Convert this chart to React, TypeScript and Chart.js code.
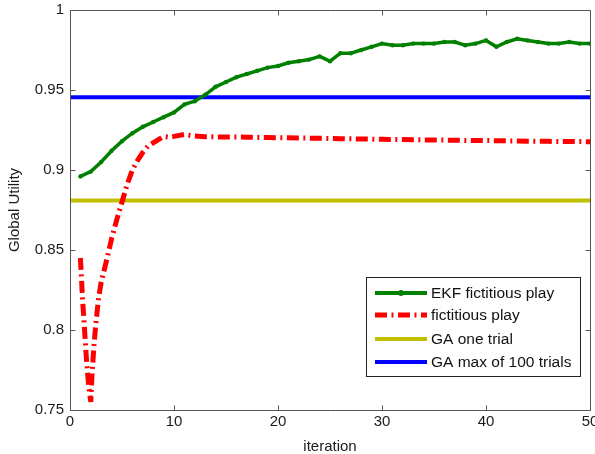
import React, { useEffect, useRef } from 'react';
import { Chart, registerables } from 'chart.js';

Chart.register(...registerables);

const iterations = [
  1, 2, 3, 4, 5, 6, 7, 8, 9, 10, 11, 12, 13, 14, 15, 16, 17, 18, 19, 20, 21, 22, 23, 24, 25,
  26, 27, 28, 29, 30, 31, 32, 33, 34, 35, 36, 37, 38, 39, 40, 41, 42, 43, 44, 45, 46, 47, 48, 49, 50,
];
const ekfUtility = [
  0.896, 0.899, 0.905, 0.912, 0.918, 0.923, 0.927, 0.930, 0.933, 0.936, 0.941, 0.943, 0.947,
  0.952, 0.955, 0.958, 0.960, 0.962, 0.964, 0.965, 0.967, 0.968, 0.969, 0.971, 0.968, 0.973,
  0.973, 0.975, 0.977, 0.979, 0.978, 0.978, 0.979, 0.979, 0.979, 0.980, 0.980, 0.978, 0.979,
  0.981, 0.977, 0.980, 0.982, 0.981, 0.980, 0.979, 0.979, 0.980, 0.979, 0.979,
];
const fpIterations = [
  1, 1.2, 1.4, 1.6, 1.8, 2.0, 2.1, 2.3, 2.5, 2.75, 3, 3.5, 4, 4.5, 5, 5.5, 6, 6.5, 7, 7.5, 8,
  8.5, 9, 9.5, 10, 11, 12, 13, 14, 15, 16, 17, 18, 19, 20, 22, 24, 26, 28, 30, 32, 34, 36, 38,
  40, 42, 44, 46, 48, 50,
];
const fpUtility = [
  0.845, 0.82, 0.8, 0.78, 0.765, 0.755, 0.77, 0.79, 0.805, 0.82, 0.83, 0.843, 0.857, 0.869,
  0.88, 0.891, 0.9, 0.906, 0.911, 0.915, 0.917, 0.919, 0.921, 0.9205, 0.921, 0.9222, 0.9212,
  0.9208, 0.9207, 0.9206, 0.9206, 0.9205, 0.9204, 0.9203, 0.9202, 0.92, 0.9198, 0.9196, 0.9194,
  0.9192, 0.919, 0.9188, 0.9187, 0.9185, 0.9184, 0.9182, 0.918, 0.9179, 0.9178, 0.9177,
];
const gaRange = [0, 50];
const gaOneTrial = [0.881, 0.881];
const gaMax100 = [0.9455, 0.9455];
const xTicks = [0, 10, 20, 30, 40, 50];
const yTicks = [0.75, 0.8, 0.85, 0.9, 0.95, 1];
const seriesNames = ['EKF fictitious play', 'fictitious play', 'GA one trial', 'GA max of 100 trials'];
const seriesColors = ['#008000', '#ff0000', '#bfbf00', '#0000ff'];
const redDash = [12, 4.5, 2, 4.5];

const FONT = '"Liberation Sans", Arial, sans-serif';

const framePlugin = {
  id: 'matlabFrame',
  afterDatasetsDraw(chart: any) {
    const { ctx, chartArea: a, scales } = chart;
    const x = scales.x;
    const y = scales.y;
    ctx.save();
    ctx.strokeStyle = '#555555';
    ctx.lineWidth = 1;
    const L = Math.round(a.left) + 0.5;
    const R = Math.round(a.right) + 0.5;
    const T = Math.round(a.top) + 0.5;
    const B = Math.round(a.bottom) + 0.5;
    ctx.beginPath();
    ctx.rect(L, T, R - L, B - T);
    ctx.stroke();
    const tl = 5;
    ctx.beginPath();
    xTicks.forEach((v) => {
      const px = Math.round(x.getPixelForValue(v)) + 0.5;
      ctx.moveTo(px, B);
      ctx.lineTo(px, B - tl);
      ctx.moveTo(px, T);
      ctx.lineTo(px, T + tl);
    });
    yTicks.forEach((v) => {
      const py = Math.round(y.getPixelForValue(v)) + 0.5;
      ctx.moveTo(L, py);
      ctx.lineTo(L + tl, py);
      ctx.moveTo(R, py);
      ctx.lineTo(R - tl, py);
    });
    ctx.stroke();

    // legend
    const bx = 366.5, by = 277.5, bw = 214, bh = 99;
    ctx.fillStyle = '#ffffff';
    ctx.fillRect(bx, by, bw, bh);
    ctx.strokeStyle = '#222222';
    ctx.strokeRect(bx, by, bw, bh);
    const rowY = [293, 315, 339, 362];
    ctx.font = `15.5px ${FONT}`;
    ctx.textBaseline = 'middle';
    ctx.textAlign = 'left';
    seriesNames.forEach((name, i) => {
      const yy = rowY[i];
      ctx.save();
      ctx.strokeStyle = seriesColors[i];
      ctx.lineWidth = i === 1 ? 5 : 4;
      ctx.lineCap = 'butt';
      if (i === 1) ctx.setLineDash(redDash);
      ctx.beginPath();
      ctx.moveTo(375, yy);
      ctx.lineTo(427, yy);
      ctx.stroke();
      ctx.restore();
      if (i === 0) {
        ctx.fillStyle = seriesColors[0];
        ctx.beginPath();
        ctx.arc(401, yy, 3, 0, Math.PI * 2);
        ctx.fill();
      }
      ctx.fillStyle = '#111111';
      ctx.fillText(name, 431, yy + 0.5);
    });
    ctx.restore();
  },
};

export default function App() {
  const ref = useRef<HTMLCanvasElement | null>(null);
  useEffect(() => {
    document.body.style.margin = '0';
    const canvas = ref.current;
    if (!canvas) return;
    const chart = new Chart(canvas, {
      type: 'line',
      data: {
        datasets: [
          {
            label: seriesNames[0],
            data: iterations.map((v, i) => ({ x: v, y: ekfUtility[i] })),
            borderColor: seriesColors[0],
            backgroundColor: seriesColors[0],
            borderWidth: 3.5,
            pointRadius: 2.2,
            pointBorderWidth: 0,
            pointBackgroundColor: seriesColors[0],
            tension: 0,
          },
          {
            label: seriesNames[1],
            data: fpIterations.map((v, i) => ({ x: v, y: fpUtility[i] })),
            borderColor: seriesColors[1],
            borderWidth: 5,
            borderDash: redDash,
            borderCapStyle: 'butt',
            pointRadius: 0,
            tension: 0,
          },
          {
            label: seriesNames[2],
            data: gaRange.map((v, i) => ({ x: v, y: gaOneTrial[i] })),
            borderColor: seriesColors[2],
            borderWidth: 4,
            pointRadius: 0,
          },
          {
            label: seriesNames[3],
            data: gaRange.map((v, i) => ({ x: v, y: gaMax100[i] })),
            borderColor: seriesColors[3],
            borderWidth: 4,
            pointRadius: 0,
          },
        ],
      },
      options: {
        animation: false,
        responsive: false,
        maintainAspectRatio: false,
        layout: { padding: { top: 10, right: 5, left: 0, bottom: 0 } },
        plugins: { legend: { display: false }, tooltip: { enabled: false } },
        scales: {
          x: {
            type: 'linear',
            min: 0,
            max: 50,
            afterFit: (s: any) => {
              s.height = 44;
              s.paddingLeft = 0;
              s.paddingRight = 0;
            },
            afterBuildTicks: (s: any) => { s.ticks = xTicks.map((v) => ({ value: v })); },
            grid: { display: false, drawTicks: false },
            border: { display: false },
            ticks: {
              padding: 3,
              color: '#1a1a1a',
              font: { family: FONT, size: 15 },
              maxRotation: 0,
              callback: (v: any) => String(v),
            },
            title: {
              display: true,
              text: 'iteration',
              color: '#1a1a1a',
              font: { family: FONT, size: 15 },
              padding: { top: 0, bottom: -2 },
            },
          },
          y: {
            type: 'linear',
            min: 0.75,
            max: 1,
            afterFit: (s: any) => {
              s.width = 70;
              s.paddingTop = 0;
              s.paddingBottom = 0;
            },
            afterBuildTicks: (s: any) => { s.ticks = yTicks.map((v) => ({ value: v })); },
            grid: { display: false, drawTicks: false },
            border: { display: false },
            ticks: {
              padding: 6,
              color: '#1a1a1a',
              font: { family: FONT, size: 15 },
              callback: (v: any) => String(Math.round(v * 100) / 100),
            },
            title: {
              display: true,
              text: 'Global Utility',
              color: '#1a1a1a',
              font: { family: FONT, size: 15 },
              padding: { top: 6, bottom: 0 },
            },
          },
        },
      },
      plugins: [framePlugin],
    });
    return () => chart.destroy();
  }, []);
  return (
    <div style={{ width: 595, height: 454 }}>
      <canvas ref={ref} width={595} height={454} style={{ display: 'block' }} />
    </div>
  );
}
